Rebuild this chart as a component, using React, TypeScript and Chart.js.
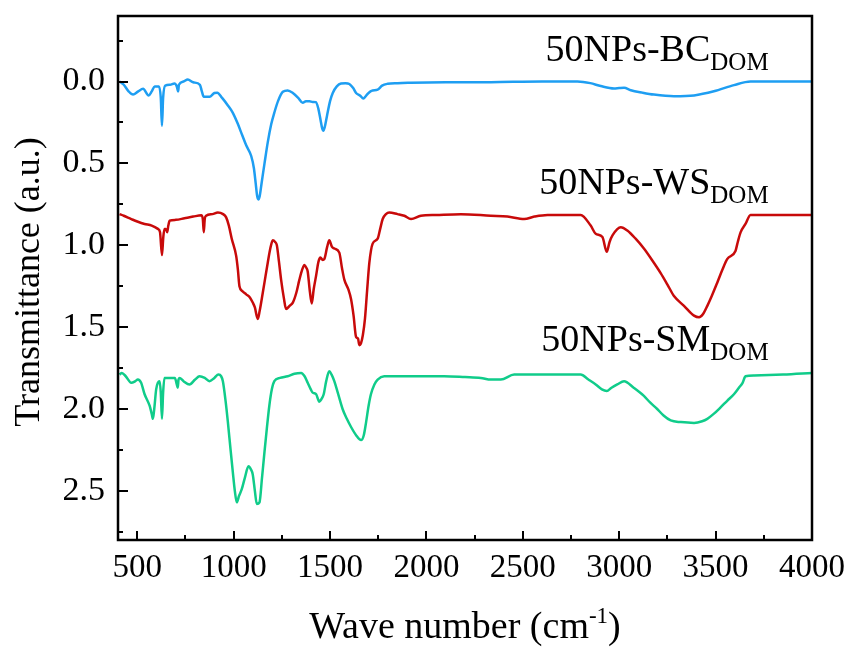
import React, { useEffect, useRef } from 'react';
import { Chart, registerables } from 'chart.js';

Chart.register(...registerables);

// ---------- data ----------
const bcWave = [409, 430, 455, 478, 505, 530, 559, 575, 590, 612, 622, 628, 634, 645, 670, 693, 705, 712, 716, 740, 762, 790, 825, 835, 845, 875, 900, 915, 940, 970, 995, 1022, 1045, 1065, 1091, 1105, 1115, 1122, 1128, 1135, 1145, 1160, 1177, 1195, 1211, 1230, 1255, 1280, 1307, 1335, 1358, 1375, 1393, 1410, 1427, 1440, 1450, 1460, 1465, 1472, 1484, 1500, 1514, 1535, 1557, 1580, 1600, 1620, 1635, 1655, 1673, 1685, 1695, 1710, 1721, 1747, 1770, 1799, 1850, 1920, 2100, 2334, 2600, 2783, 2850, 2904, 2973, 3000, 3025, 3060, 3120, 3180, 3284, 3388, 3491, 3595, 3681, 4000];
const bcValue = [0.0, 0.02, 0.06, 0.08, 0.06, 0.045, 0.085, 0.06, 0.03, 0.03, 0.1, 0.27, 0.1, 0.025, 0.02, 0.012, 0.03, 0.06, 0.02, 0.0, -0.012, 0.005, 0.02, 0.06, 0.093, 0.093, 0.07, 0.068, 0.1, 0.146, 0.19, 0.26, 0.33, 0.39, 0.455, 0.53, 0.63, 0.7, 0.72, 0.7, 0.62, 0.5, 0.37, 0.26, 0.19, 0.12, 0.063, 0.055, 0.07, 0.1, 0.13, 0.12, 0.12, 0.125, 0.126, 0.17, 0.23, 0.29, 0.3, 0.28, 0.21, 0.12, 0.07, 0.03, 0.012, 0.01, 0.015, 0.04, 0.07, 0.085, 0.104, 0.09, 0.075, 0.06, 0.055, 0.05, 0.025, 0.014, 0.01, 0.008, 0.005, 0.004, 0.0, 0.0, 0.01, 0.028, 0.043, 0.04, 0.038, 0.053, 0.068, 0.08, 0.09, 0.085, 0.06, 0.022, 0.0, 0.0];

const wsWave = [408, 430, 469, 500, 538, 575, 607, 618, 628, 635, 641, 648, 655, 661, 668, 700, 745, 790, 832, 840, 845, 850, 857, 890, 918, 945, 961, 975, 990, 1013, 1022, 1030, 1045, 1065, 1085, 1099, 1110, 1125, 1135, 1151, 1165, 1177, 1190, 1203, 1215, 1224, 1235, 1246, 1260, 1272, 1290, 1307, 1325, 1341, 1355, 1367, 1378, 1384, 1395, 1405, 1415, 1427, 1440, 1450, 1462, 1470, 1485, 1496, 1510, 1522, 1548, 1562, 1574, 1595, 1609, 1622, 1635, 1645, 1652, 1660, 1670, 1681, 1692, 1704, 1721, 1747, 1760, 1773, 1790, 1807, 1850, 1885, 1920, 1971, 2050, 2179, 2334, 2420, 2507, 2560, 2628, 2800, 2852, 2878, 2913, 2935, 2950, 2965, 3008, 3042, 3085, 3128, 3170, 3215, 3250, 3284, 3336, 3388, 3414, 3435, 3457, 3480, 3508, 3535, 3560, 3603, 3615, 3630, 3655, 3681, 4000];
const wsValue = [0.81, 0.82, 0.84, 0.855, 0.87, 0.88, 0.9, 0.92, 1.06, 0.95, 0.9, 0.9, 0.92, 0.88, 0.85, 0.845, 0.835, 0.825, 0.817, 0.84, 0.92, 0.84, 0.82, 0.81, 0.8, 0.81, 0.83, 0.88, 0.96, 1.065, 1.15, 1.25, 1.28, 1.3, 1.32, 1.35, 1.38, 1.45, 1.4, 1.29, 1.19, 1.105, 1.02, 0.97, 0.98, 1.0, 1.1, 1.21, 1.32, 1.39, 1.37, 1.35, 1.29, 1.21, 1.15, 1.12, 1.14, 1.16, 1.28, 1.355, 1.27, 1.19, 1.1, 1.075, 1.09, 1.085, 1.01, 0.97, 1.01, 1.02, 1.045, 1.14, 1.21, 1.27, 1.33, 1.43, 1.56, 1.57, 1.61, 1.6, 1.55, 1.45, 1.28, 1.105, 0.99, 0.96, 0.9, 0.84, 0.81, 0.8, 0.81, 0.82, 0.84, 0.82, 0.815, 0.81, 0.82, 0.825, 0.84, 0.825, 0.815, 0.815, 0.88, 0.93, 0.95, 1.04, 0.98, 0.94, 0.89, 0.91, 0.96, 1.02, 1.09, 1.17, 1.24, 1.31, 1.37, 1.43, 1.44, 1.42, 1.37, 1.31, 1.23, 1.15, 1.085, 1.035, 0.98, 0.92, 0.87, 0.815, 0.815];

const smWave = [408, 420, 440, 469, 490, 503, 520, 538, 564, 575, 581, 588, 598, 607, 616, 622, 628, 634, 641, 660, 684, 695, 705, 710, 714, 719, 740, 771, 800, 823, 850, 874, 900, 921, 935, 944, 958, 970, 984, 996, 1006, 1016, 1028, 1042, 1058, 1077, 1090, 1099, 1110, 1120, 1134, 1147, 1160, 1172, 1185, 1198, 1211, 1240, 1280, 1315, 1350, 1368, 1384, 1400, 1410, 1428, 1444, 1455, 1467, 1480, 1496, 1508, 1522, 1540, 1565, 1587, 1609, 1635, 1661, 1675, 1687, 1700, 1712, 1730, 1747, 1781, 1850, 1950, 2092, 2200, 2282, 2334, 2386, 2455, 2600, 2800, 2840, 2878, 2910, 2935, 2960, 2990, 3025, 3075, 3128, 3160, 3197, 3230, 3267, 3320, 3388, 3430, 3457, 3490, 3526, 3560, 3595, 3621, 3640, 3655, 3700, 3850, 4000];
const smValue = [1.79, 1.78, 1.8, 1.84, 1.83, 1.82, 1.84, 1.91, 1.98, 2.03, 2.06, 2.0, 1.88, 1.84, 1.83, 1.9, 2.06, 1.9, 1.81, 1.81, 1.81, 1.81, 1.85, 1.87, 1.82, 1.81, 1.83, 1.85, 1.82, 1.8, 1.81, 1.83, 1.81, 1.79, 1.8, 1.83, 1.95, 2.08, 2.25, 2.39, 2.5, 2.57, 2.53, 2.49, 2.42, 2.35, 2.37, 2.4, 2.5, 2.58, 2.57, 2.42, 2.26, 2.12, 1.98, 1.88, 1.83, 1.81, 1.8, 1.785, 1.78, 1.8, 1.84, 1.88, 1.9, 1.91, 1.955, 1.94, 1.91, 1.83, 1.77, 1.79, 1.83, 1.9, 2.0, 2.06, 2.11, 2.16, 2.19, 2.16, 2.08, 1.98, 1.91, 1.85, 1.82, 1.8, 1.8, 1.8, 1.8, 1.805, 1.81, 1.82, 1.82, 1.79, 1.79, 1.79, 1.82, 1.85, 1.88, 1.89, 1.87, 1.85, 1.83, 1.87, 1.92, 1.96, 2.0, 2.04, 2.07, 2.08, 2.085, 2.075, 2.06, 2.03, 1.99, 1.95, 1.91, 1.87, 1.84, 1.8, 1.795, 1.79, 1.78];

const xTickValues = [500, 1000, 1500, 2000, 2500, 3000, 3500, 4000];
const yTickValues = [0, 0.5, 1.0, 1.5, 2.0, 2.5];
const seriesNames = ['50NPs-BC', '50NPs-WS', '50NPs-SM'];
const seriesSub = 'DOM';
const seriesColors = ['#1E9EF2', '#C80A0A', '#10CC8A'];
// label anchors in data units (right edge wavenumber, baseline value)
const labelRightWave = 3775;
const labelBaselines = [-0.125, 0.69, 1.645];
const xTitle = 'Wave number (cm';
const xTitleSup = '-1';
const yTitle = 'Transmittance (a.u.)';

const FONT = '"Liberation Serif", "Times New Roman", serif';

const toPoints = (xs: number[], ys: number[]) => xs.map((x, i) => ({ x, y: ys[i] }));

const decorPlugin = {
  id: 'decor',
  afterDraw(chart: any) {
    const { ctx, chartArea: a, scales } = chart;
    const xs = scales.x;
    const ys = scales.y;
    ctx.save();
    ctx.strokeStyle = '#000';
    ctx.lineCap = 'butt';
    // inward ticks
    ctx.lineWidth = 2;
    for (let v = 500; v <= 4000; v += 250) {
      const px = Math.round(xs.getPixelForValue(v));
      const len = v % 500 === 0 ? 9 : 5;
      ctx.beginPath();
      ctx.moveTo(px, a.bottom);
      ctx.lineTo(px, a.bottom - len);
      ctx.stroke();
    }
    for (let k = -1; k <= 11; k++) {
      const v = k * 0.25;
      const py = Math.round(ys.getPixelForValue(v));
      const len = k % 2 === 0 ? 10 : 5;
      ctx.beginPath();
      ctx.moveTo(a.left, py);
      ctx.lineTo(a.left + len, py);
      ctx.stroke();
    }
    // frame
    ctx.lineWidth = 2.5;
    ctx.strokeRect(a.left, a.top, a.right - a.left, a.bottom - a.top);

    // series labels
    ctx.fillStyle = '#000';
    ctx.textBaseline = 'alphabetic';
    const rx = xs.getPixelForValue(labelRightWave);
    seriesNames.forEach((name, i) => {
      const by = ys.getPixelForValue(labelBaselines[i]);
      ctx.font = `25px ${FONT}`;
      const sw = ctx.measureText(seriesSub).width;
      ctx.textAlign = 'left';
      ctx.fillText(seriesSub, rx - sw, by + 9);
      ctx.font = `38px ${FONT}`;
      ctx.textAlign = 'right';
      ctx.fillText(name, rx - sw, by);
    });

    // x title
    const big = 38;
    const small = 23;
    ctx.font = `${big}px ${FONT}`;
    const w1 = ctx.measureText(xTitle).width;
    const w3 = ctx.measureText(')').width;
    ctx.font = `${small}px ${FONT}`;
    const w2 = ctx.measureText(xTitleSup).width;
    const total = w1 + w2 + w3;
    const cx = (a.left + a.right) / 2;
    let sx = cx - total / 2;
    const bY = 638;
    ctx.textAlign = 'left';
    ctx.font = `${big}px ${FONT}`;
    ctx.fillText(xTitle, sx, bY);
    sx += w1;
    ctx.font = `${small}px ${FONT}`;
    ctx.fillText(xTitleSup, sx, bY - 15);
    sx += w2;
    ctx.font = `${big}px ${FONT}`;
    ctx.fillText(')', sx, bY);

    // y title
    ctx.save();
    ctx.translate(30, 282);
    ctx.rotate(-Math.PI / 2);
    ctx.textAlign = 'center';
    ctx.textBaseline = 'middle';
    ctx.font = `36px ${FONT}`;
    ctx.fillText(yTitle, 0, 0);
    ctx.restore();

    ctx.restore();
  },
};

export default function App() {
  const ref = useRef<HTMLCanvasElement | null>(null);
  useEffect(() => {
    if (!ref.current) return;
    const chart = new Chart(ref.current, {
      type: 'line',
      data: {
        datasets: [
          { label: seriesNames[0], data: toPoints(bcWave, bcValue), borderColor: seriesColors[0] },
          { label: seriesNames[1], data: toPoints(wsWave, wsValue), borderColor: seriesColors[1] },
          { label: seriesNames[2], data: toPoints(smWave, smValue), borderColor: seriesColors[2] },
        ].map((d) => ({
          ...d,
          borderWidth: 2.5,
          pointRadius: 0,
          fill: false,
          tension: 0,
          cubicInterpolationMode: 'monotone' as const,
        })),
      },
      options: {
        animation: false,
        responsive: false,
        devicePixelRatio: 1,
        layout: { padding: { top: 16, right: 40, left: 0, bottom: 0 } },
        plugins: { legend: { display: false }, tooltip: { enabled: false } },
        scales: {
          x: {
            type: 'linear',
            min: 400,
            max: 4000,
            grid: { display: false, drawTicks: false },
            border: { display: false },
            afterBuildTicks: (s: any) => {
              s.ticks = xTickValues.map((v) => ({ value: v }));
            },
            afterFit: (s: any) => {
              s.height = 112;
              s.paddingLeft = 0;
              s.paddingRight = 0;
              s.paddingTop = 0;
              s.paddingBottom = 0;
            },
            ticks: {
              color: '#000',
              font: { family: FONT, size: 33 },
              padding: 9,
              maxRotation: 0,
              autoSkip: false,
              callback: (v: any) => String(v),
            },
          },
          y: {
            type: 'linear',
            reverse: true,
            min: -0.4,
            max: 2.8,
            grid: { display: false, drawTicks: false },
            border: { display: false },
            afterBuildTicks: (s: any) => {
              s.ticks = yTickValues.map((v) => ({ value: v }));
            },
            afterFit: (s: any) => {
              s.width = 118;
              s.paddingLeft = 0;
              s.paddingRight = 0;
              s.paddingTop = 0;
              s.paddingBottom = 0;
            },
            ticks: {
              color: '#000',
              font: { family: FONT, size: 34 },
              padding: 13,
              autoSkip: false,
              callback: (v: any) => Number(v).toFixed(1),
            },
          },
        },
      },
      plugins: [decorPlugin],
    });
    return () => chart.destroy();
  }, []);
  return (
    <div style={{ position: 'fixed', left: 0, top: 0, width: 852, height: 652, background: '#fff' }}>
      <canvas ref={ref} width={852} height={652} style={{ width: 852, height: 652, display: 'block' }} />
    </div>
  );
}
